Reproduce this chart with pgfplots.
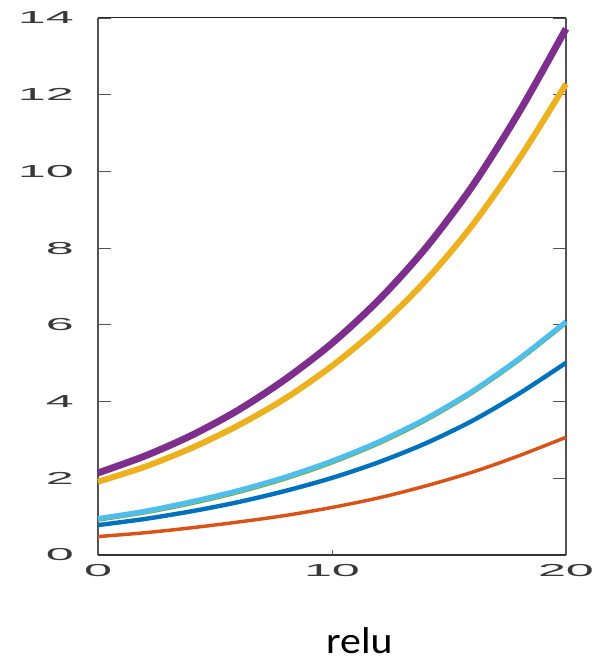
\documentclass[border=0pt]{standalone}
\usepackage{graphicx}
\usepackage{fontspec}
\setmainfont{Liberation Sans}
\newfontfamily\carlito{Carlito}
\usepackage{pgfplots}
\pgfplotsset{compat=1.18}
\definecolor{mblue}{rgb}{0,0.447,0.741}
\definecolor{mred}{rgb}{0.85,0.325,0.098}
\definecolor{myellow}{rgb}{0.929,0.694,0.125}
\definecolor{mpurple}{rgb}{0.494,0.184,0.556}
\definecolor{mgreen}{rgb}{0.466,0.674,0.188}
\definecolor{mlblue}{rgb}{0.301,0.745,0.933}
\definecolor{axgray}{rgb}{0.33,0.33,0.33}
\begin{document}
\begin{tikzpicture}
\begin{axis}[
  scale only axis,
  width=351pt, height=402.75pt,
  at={(0,0)}, anchor=south west,
  xmin=0, xmax=20, ymin=0, ymax=14,
  xtick={0,10,20}, ytick={0,2,4,6,8,10,12,14},
  /pgf/number format/assume math mode=true,
  tick align=inside,
  ytick pos=both,
  major tick length=9.75pt,
  xtick style={draw=none},
  ytick style={axgray, line width=0.7pt},
  axis line style={draw=none},
  clip=false,
  tick label style={font=\fontsize{13}{15}\selectfont, color=black!78},
  yticklabel={\scalebox{2.9}[1]{\pgfmathprintnumber{\tick}}},
  xticklabel={\scalebox{2.9}[1]{\pgfmathprintnumber{\tick}}},
  yticklabel style={inner sep=0pt, anchor=east, xshift=-18pt},
  xticklabel style={inner sep=0pt, anchor=north, yshift=-6.75pt},
]
% axis frame
\draw[axgray, line width=1.5pt] (rel axis cs:0,0) -- (rel axis cs:0,1);
\draw[axgray, line width=1.5pt] (rel axis cs:1,0) -- (rel axis cs:1,1);
\draw[black!85, line width=0.75pt] (rel axis cs:0,1) -- (rel axis cs:1,1);
\draw[black!80, line width=1pt] (rel axis cs:0,0) -- (rel axis cs:1,0);
\draw[axgray, line width=0.7pt] (axis cs:10,0) -- ++(0,3.75pt);

\addplot[mblue, line width=3.3pt, smooth] coordinates {
(0,0.78) (2,0.94) (4,1.14) (6,1.38) (8,1.67) (10,2.01) (12,2.42) (14,2.91) (16,3.50) (18,4.21) (20,5.01)};
\addplot[mred, line width=2.6pt, smooth] coordinates {
(0,0.48) (2,0.58) (4,0.71) (6,0.86) (8,1.03) (10,1.24) (12,1.49) (14,1.80) (16,2.16) (18,2.59) (20,3.07)};
\addplot[myellow, line width=4.5pt, smooth] coordinates {
(0,1.91) (2,2.30) (4,2.79) (6,3.38) (8,4.08) (10,4.93) (12,5.94) (14,7.15) (16,8.60) (18,10.33) (20,12.28)};
\addplot[mpurple, line width=5.2pt, smooth] coordinates {
(0,2.14) (2,2.58) (4,3.12) (6,3.78) (8,4.58) (10,5.52) (12,6.65) (14,8.00) (16,9.62) (18,11.55) (20,13.72)};
\addplot[mgreen, line width=0.9pt, smooth] coordinates {
(0,0.88) (2,1.07) (4,1.31) (6,1.60) (8,1.95) (10,2.37) (12,2.87) (14,3.47) (16,4.19) (18,5.04) (20,6.00)};
\addplot[mlblue, line width=3.8pt, smooth] coordinates {
(0,0.95) (2,1.14) (4,1.39) (6,1.68) (8,2.03) (10,2.45) (12,2.95) (14,3.55) (16,4.27) (18,5.12) (20,6.08)};
\end{axis}
\node[anchor=base, font=\carlito\fontsize{28}{32}\selectfont, inner sep=0pt] at (196pt,-73.5pt) {\scalebox{1.12}[1]{relu}};
\pgfresetboundingbox
\path (-73.5pt,-81pt) rectangle (372.75pt,416.25pt);
\end{tikzpicture}
\end{document}
